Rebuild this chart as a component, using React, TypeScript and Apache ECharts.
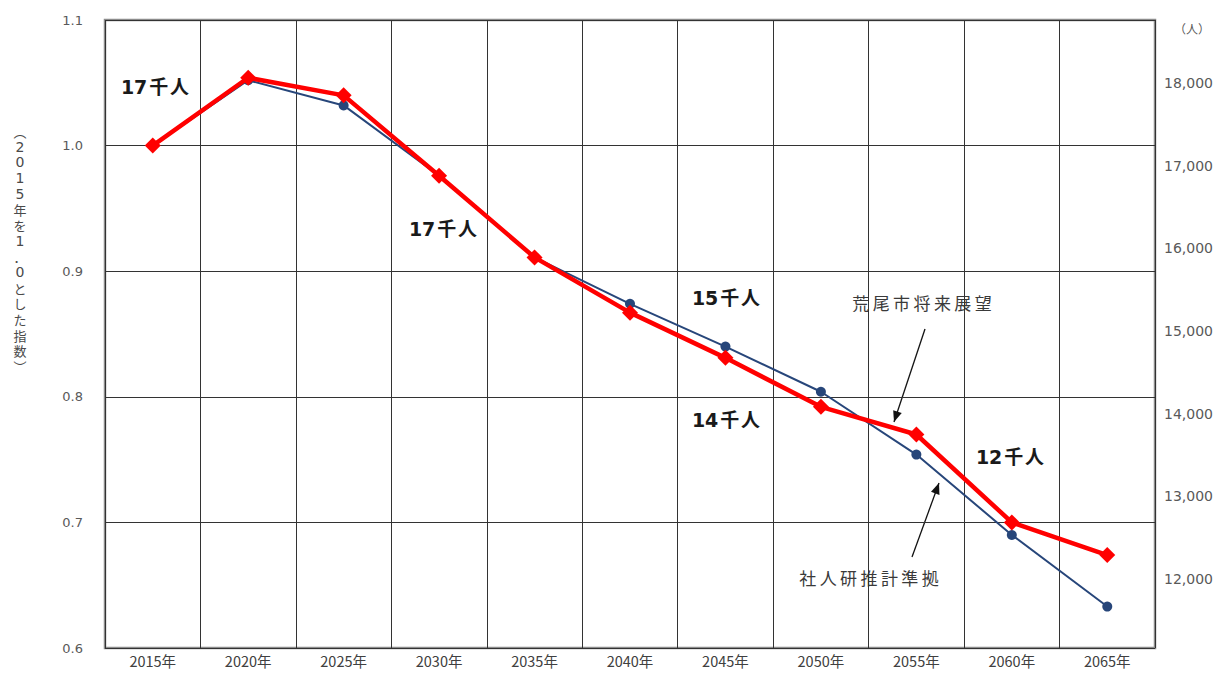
import React, { useEffect, useRef } from "react";
import * as echarts from "echarts";

const years = ["2015年", "2020年", "2025年", "2030年", "2035年", "2040年", "2045年", "2050年", "2055年", "2060年", "2065年"];
// 社人研推計準拠 (index, 2015 = 1.0)
const ipssIndex = [1.0, 1.052, 1.032, 0.976, 0.911, 0.874, 0.840, 0.804, 0.754, 0.690, 0.633];
// 荒尾市将来展望 (index, 2015 = 1.0)
const araoIndex = [1.0, 1.054, 1.040, 0.976, 0.911, 0.867, 0.831, 0.792, 0.770, 0.700, 0.674];
// right axis (persons)
const personTicks = [12000, 13000, 14000, 15000, 16000, 17000, 18000];
const personMin = 11163;
const personMax = 18766;
const popLabels = ["17千人", "17千人", "15千人", "14千人", "12千人"];
const leftAxisName = ["︵", "2", "0", "1", "5", "年", "を", "1", "．", "0", "と", "し", "た", "指", "数", "︶"];

const FONT_NUM = "'DejaVu Sans', Verdana, sans-serif";
const FONT_CJK = "'Noto Sans CJK JP', sans-serif";

function arrowHead(x1: number, y1: number, x2: number, y2: number) {
  const a = Math.atan2(y2 - y1, x2 - x1);
  const L = 11, W = 4.5;
  const c = Math.cos(a), s = Math.sin(a);
  return [
    [x2, y2],
    [x2 - L * c + W * s, y2 - L * s - W * c],
    [x2 - L * c - W * s, y2 - L * s + W * c],
  ];
}

export default function App() {
  const ref = useRef<HTMLDivElement>(null);
  useEffect(() => {
    if (!ref.current) return;
    const chart = echarts.init(ref.current, null, { renderer: "svg" });
    const labelPos = [
      [155, 87],
      [443, 229],
      [726, 298],
      [726, 420],
      [1010, 457],
    ];
    const spaced = (t: string, sp: string) => t.replace(/(\d+)(千)(人)/, `$1${sp}$2${sp}$3`);
    const arrows = [
      [925, 329, 894, 422],
      [912, 557, 939, 483],
    ];
    const graphics: any[] = [];
    popLabels.forEach((t, i) => {
      graphics.push({
        type: "text",
        x: labelPos[i][0],
        y: labelPos[i][1],
        style: {
          text: spaced(t, "\u200A"),
          font: `bold 19px 'DejaVu Sans', ${FONT_CJK}`,
          fill: "#1a1a1a",
          textAlign: "center",
          textVerticalAlign: "middle",
        },
      });
    });
    arrows.forEach(([x1, y1, x2, y2]) => {
      graphics.push({
        type: "line",
        shape: { x1, y1, x2, y2 },
        style: { stroke: "#111", lineWidth: 1.3 },
      });
      graphics.push({
        type: "polygon",
        shape: { points: arrowHead(x1, y1, x2, y2) },
        style: { fill: "#111" },
      });
    });
    graphics.push({
      type: "text",
      x: 922,
      y: 302,
      style: {
        text: "荒尾市将来展望".split("").join("\u2009"),
        font: `17px ${FONT_CJK}`,
        fill: "#3a3a3a",
        textAlign: "center",
        textVerticalAlign: "middle",
      },
    });
    graphics.push({
      type: "text",
      x: 869,
      y: 577,
      style: {
        text: "社人研推計準拠".split("").join("\u2009"),
        font: `17px ${FONT_CJK}`,
        fill: "#3a3a3a",
        textAlign: "center",
        textVerticalAlign: "middle",
      },
    });
    const nameTop = 131;
    const nameStep = 15.7;
    leftAxisName.forEach((ch, i) => {
      const isDigit = /[0-9]/.test(ch);
      graphics.push({
        type: "text",
        x: 20,
        y: nameTop + i * nameStep,
        style: {
          text: ch,
          font: isDigit ? `14px 'DejaVu Sans'` : `13px ${FONT_CJK}`,
          lineHeight: 13,
          fill: "#4a4a4a",
          textAlign: "center",
          textVerticalAlign: "middle",
        },
      });
    });
    graphics.push({
      type: "text",
      x: 1192,
      y: 28,
      style: {
        text: "（人）",
        font: `12px ${FONT_CJK}`,
        fill: "#595959",
        textAlign: "center",
        textVerticalAlign: "middle",
      },
    });

    chart.setOption({
      animation: false,
      backgroundColor: "#ffffff",
      grid: {
        left: 105,
        right: 69,
        top: 20,
        bottom: 33,
        show: true,
        borderColor: "#8c8c8c",
        borderWidth: 2.5,
        backgroundColor: "transparent",
      },
      xAxis: {
        type: "category",
        data: years,
        boundaryGap: true,
        axisLine: { show: false },
        axisTick: { show: false },
        splitLine: { show: true, lineStyle: { color: "#333", width: 1 } },
        axisLabel: { color: "#404040", fontSize: 14.5, fontFamily: FONT_CJK, margin: 5 },
      },
      yAxis: [
        {
          type: "value",
          min: 0.6,
          max: 1.1,
          interval: 0.1,
          axisLine: { show: false },
          axisTick: { show: false },
          splitLine: { show: true, lineStyle: { color: "#333", width: 1 } },
          axisLabel: {
            color: "#595959",
            fontSize: 13,
            fontFamily: FONT_NUM,
            margin: 22,
            formatter: (v: number) => v.toFixed(1),
          },
        },
        {
          type: "value",
          position: "right",
          min: personMin,
          max: personMax,
          axisLine: { show: false },
          axisTick: { show: false },
          splitLine: { show: false },
          axisLabel: {
            color: "#595959",
            fontSize: 14,
            fontFamily: FONT_NUM,
            margin: 9,
            customValues: personTicks,
            formatter: (v: number) => v.toLocaleString("en-US"),
          },
        },
      ],
      series: [
        {
          name: "社人研推計準拠",
          type: "line",
          data: ipssIndex,
          yAxisIndex: 0,
          symbol: "circle",
          symbolSize: 10,
          lineStyle: { color: "#27467a", width: 2 },
          itemStyle: { color: "#27467a" },
          z: 2,
        },
        {
          name: "荒尾市将来展望",
          type: "line",
          data: araoIndex,
          yAxisIndex: 0,
          symbol: "diamond",
          symbolSize: 16,
          lineStyle: { color: "#ff0000", width: 4.5 },
          itemStyle: { color: "#ff0000" },
          z: 3,
        },
      ],
      graphic: graphics,
    });
    return () => chart.dispose();
  }, []);
  return (
    <div
      ref={ref}
      style={{ position: "fixed", left: 0, top: 0, width: 1224, height: 681, background: "#fff" }}
    />
  );
}
